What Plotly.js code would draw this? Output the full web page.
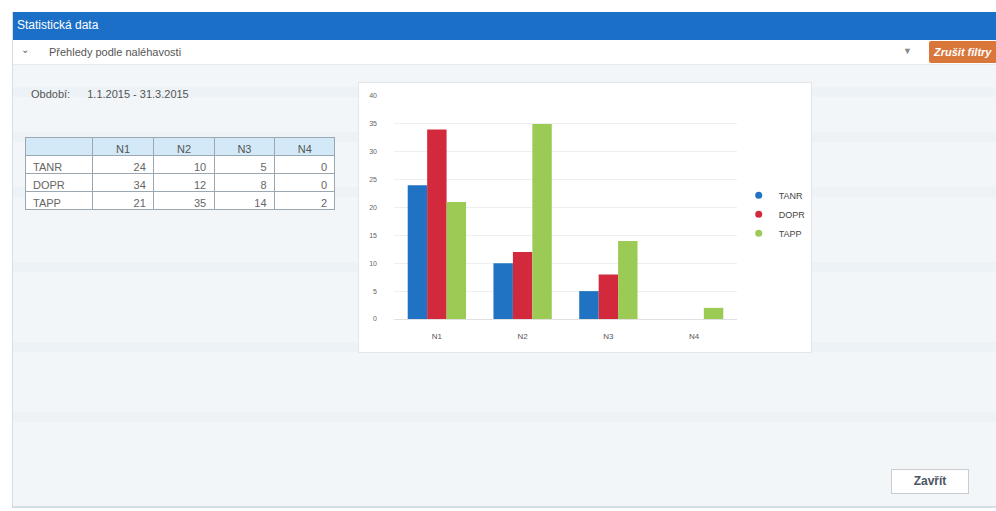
<!DOCTYPE html>
<html><head><meta charset="utf-8">
<script src="https://cdn.plot.ly/plotly-3.0.1.min.js"></script>
<style>
html,body{margin:0;padding:0;width:996px;height:511px;overflow:hidden;background:#fff;font-family:"Liberation Sans",Arial,sans-serif;}
#dlg{position:absolute;left:12px;top:12px;width:990px;height:494px;background:#f3f6f9;border-left:1px solid #d8dde3;border-bottom:2px solid #d8dde3;}
#bar{position:absolute;left:0;top:0;width:990px;height:28px;background:#1b6fc6;color:#fff;font-size:12px;line-height:26px;padding-left:4px;box-sizing:border-box;}
#row{position:absolute;left:0;top:28px;width:990px;height:24px;background:#fff;border-bottom:1px solid #e6ebf0;}
#row .chev{position:absolute;left:8px;top:4px;font-size:10px;color:#666;}
#row .t{position:absolute;left:36px;top:6px;font-size:11px;color:#555;}
#row .dd{position:absolute;left:890px;top:6px;font-size:9px;color:#888;}
#btnO{position:absolute;left:929px;top:41px;width:70px;height:22px;background:#d9763a;color:#fff;font-size:11px;font-weight:bold;font-style:italic;line-height:22px;padding-left:5px;box-sizing:border-box;border-radius:2px;white-space:nowrap;overflow:hidden;}
#per{position:absolute;left:18px;top:76px;font-size:11px;color:#555;}
#per span{margin-left:14px;}
#tbl{position:absolute;left:22px;top:133px;width:316px;height:84px;}
#chart{position:absolute;left:358px;top:82px;width:454px;height:271px;border:1px solid #e3e6ea;box-sizing:border-box;background:#fff;}
#close{position:absolute;left:878px;top:457px;width:78px;height:25px;background:#fff;border:1px solid #c9cdd2;box-sizing:border-box;font-size:12px;font-weight:bold;color:#4a5560;text-align:center;line-height:23px;}
.stripe{position:absolute;left:0;width:990px;height:10px;background:rgba(225,232,240,0.3);}
</style></head>
<body>
<div id="dlg">
  <div class="stripe" style="top:75px"></div>
  <div class="stripe" style="top:120px"></div>
  <div class="stripe" style="top:175px"></div>
  <div class="stripe" style="top:250px"></div>
  <div class="stripe" style="top:330px"></div>
  <div class="stripe" style="top:400px"></div>
  <div id="bar">Statistická data</div>
  <div id="row"><span class="chev">&#8964;</span><span class="t">Přehledy podle naléhavosti</span><span class="dd">&#9660;</span></div>
  <div id="per">Období: <span>1.1.2015 - 31.3.2015</span></div>
  <div id="close">Zavřít</div>
</div>
<div id="btnO">Zrušit filtry</div>
<div id="tbl"></div>
<div id="chart"></div>
<script>
const categories = ["N1","N2","N3","N4"];
const seriesNames = ["TANR","DOPR","TAPP"];
const tanr = [24,10,5,0];
const dopr = [34,12,8,0];
const tapp = [21,35,14,2];
const colors = ["#1f73c2","#d22a3c","#9bcb55"];
const yTicks = [0,5,10,15,20,25,30,35,40];

const values = [tanr, dopr, tapp];
const font = {family:"Liberation Sans, Arial, sans-serif"};

// chart
const traces = [];
values.forEach((v,i)=>{
  traces.push({type:"bar", x:categories, y:v, name:seriesNames[i], marker:{color:colors[i]}, showlegend:false, hoverinfo:"x+y"});
});
values.forEach((v,i)=>{
  traces.push({type:"scatter", mode:"markers", x:[null], y:[null], name:seriesNames[i], marker:{color:colors[i], size:7, symbol:"circle"}, showlegend:true});
});
Plotly.newPlot("chart", traces, {
  width:452, height:269,
  margin:{l:35,r:74,t:13,b:33, autoexpand:false},
  paper_bgcolor:"#fff", plot_bgcolor:"#fff",
  font:font,
  barmode:"group", bargap:0.32, bargroupgap:0,
  xaxis:{type:"category", tickfont:{size:8,color:"#555"}, showgrid:false, zeroline:false, showline:true, linecolor:"#e0e0e0", ticks:"", ticklabelstandoff:9, range:[-0.5,3.5]},
  yaxis:{range:[0,40], tickvals:yTicks, tickfont:{size:7,color:"#666"}, showgrid:true, gridcolor:"#efefef", zeroline:false, showline:false, ticks:"", ticklabelstandoff:16},
  legend:{x:1.005, y:0.47, xanchor:"left", yanchor:"middle", font:{size:9,color:"#444"}, tracegroupgap:0, itemwidth:30, bgcolor:"rgba(0,0,0,0)"},
  showlegend:true
}, {displayModeBar:false, staticPlot:true});

// table
const header = ["", ...categories];
const colVals = [seriesNames];
for (let c=0;c<categories.length;c++) colVals.push(values.map(v=>v[c]));
Plotly.newPlot("tbl", [{
  type:"table",
  columnwidth:[67,61,60,60,60],
  header:{values:header, align:"center", fill:{color:"#d3e9f7"}, line:{color:"#9aa8b4", width:1}, font:{family:font.family, size:11, color:"#555"}, height:18},
  cells:{values:colVals, align:["left","right","right","right","right"], fill:{color:"#fff"}, line:{color:"#9aa8b4", width:1}, font:{family:font.family, size:11, color:"#666"}, height:18}
}], {width:316, height:84, margin:{l:3,r:3,t:4,b:0}, paper_bgcolor:"rgba(0,0,0,0)"}, {displayModeBar:false, staticPlot:true});
</script>
</body></html>
